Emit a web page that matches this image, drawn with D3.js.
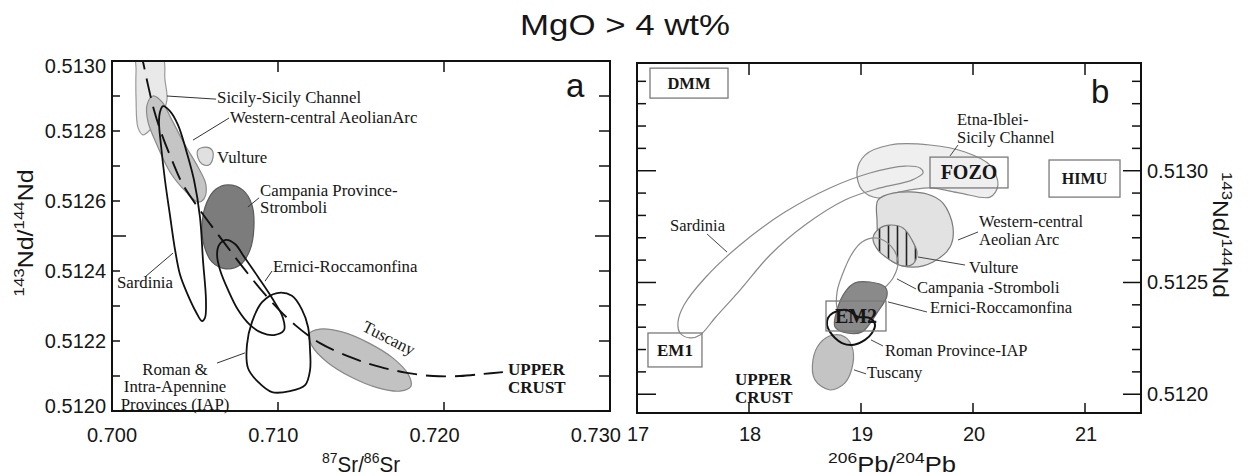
<!DOCTYPE html>
<html><head><meta charset="utf-8">
<script src="https://cdn.jsdelivr.net/npm/d3@7"></script>
<style>body{margin:0;background:#fff} svg{display:block}</style>
</head><body>
<svg id="c" width="1249" height="476"></svg>
<script>
// ================= DATA =================
const titleText = "MgO > 4 wt%";
const aXTicks = [0.700, 0.710, 0.720, 0.730];
const aXTickLabels = ["0.700", "0.710", "0.720", "0.730"];
const aYTicks = [0.5120, 0.5122, 0.5124, 0.5126, 0.5128, 0.5130];
const aYTickLabels = ["0.5120", "0.5122", "0.5124", "0.5126", "0.5128", "0.5130"];
const bXTicks = [17, 18, 19, 20, 21];
const bXTickLabels = ["17", "18", "19", "20", "21"];
const bYTicks = [0.5120, 0.5125, 0.5130];
const bYTickLabels = ["0.5120", "0.5125", "0.5130"];

// Panel a fields: [87Sr/86Sr, 143Nd/144Nd]
const aSicily = [[0.70151,0.513017],[0.70301,0.513017],[0.70319,0.512946],[0.70331,0.512889],[0.70289,0.512837],[0.70229,0.512803],[0.70187,0.512789],[0.70157,0.512809],[0.70145,0.512889],[0.70145,0.512974]];
const aAeolian = [[0.70247,0.5129],[0.70301,0.512883],[0.70361,0.512831],[0.70440,0.51276],[0.70518,0.512697],[0.70566,0.512646],[0.70554,0.512606],[0.70518,0.512597],[0.70446,0.512626],[0.70349,0.512683],[0.70271,0.51276],[0.70217,0.512826],[0.70211,0.512874]];
const aVulture = [[0.70518,0.512746],[0.70566,0.512754],[0.70602,0.512746],[0.70608,0.512723],[0.70584,0.512703],[0.70542,0.512706],[0.70518,0.512723]];
const aCampania = [[0.70699,0.512646],[0.70789,0.512631],[0.70843,0.512589],[0.70855,0.512526],[0.70831,0.51246],[0.70771,0.512417],[0.70687,0.512406],[0.70602,0.512426],[0.70554,0.512474],[0.70542,0.512531],[0.70572,0.512597],[0.70627,0.512634]];
const aSardinia = [[0.70307,0.512871],[0.70349,0.512857],[0.70398,0.512817],[0.70446,0.512746],[0.70494,0.51266],[0.70530,0.512554],[0.70548,0.512431],[0.70566,0.512317],[0.70560,0.512266],[0.70542,0.512257],[0.70506,0.512283],[0.70452,0.512337],[0.70410,0.512389],[0.70380,0.51246],[0.70349,0.51256],[0.70319,0.51266],[0.70295,0.51276],[0.70283,0.512826],[0.70289,0.512854]];
const aErnici = [[0.70687,0.512489],[0.70741,0.512477],[0.70801,0.512437],[0.70880,0.512383],[0.70964,0.512323],[0.71030,0.512266],[0.71036,0.512231],[0.70976,0.512217],[0.70904,0.512223],[0.70831,0.512246],[0.70759,0.512289],[0.70699,0.512346],[0.70651,0.512403],[0.70633,0.512446],[0.70645,0.512474]];
const aRoman = [[0.70994,0.512337],[0.71084,0.512329],[0.71145,0.512289],[0.71181,0.51224],[0.71193,0.512174],[0.71193,0.512117],[0.71163,0.512074],[0.71072,0.512057],[0.70964,0.512054],[0.70880,0.512083],[0.70819,0.512123],[0.70813,0.512189],[0.70843,0.512254],[0.70904,0.512311]];
const aTuscany = [[0.71801,0.512071],[0.71735,0.512057],[0.71602,0.512066],[0.71440,0.512097],[0.71295,0.51214],[0.71205,0.512186],[0.71187,0.51222],[0.71253,0.512234],[0.71386,0.512226],[0.71548,0.512194],[0.71693,0.512151],[0.71783,0.512106]];
const aMixing = [[0.70169,0.513031],[0.70187,0.512997],[0.70217,0.512931],[0.70253,0.51286],[0.70301,0.512789],[0.70361,0.512717],[0.70428,0.512646],[0.70530,0.512574],[0.70663,0.512489],[0.70801,0.512403],[0.70952,0.512317],[0.71102,0.512246],[0.71253,0.512194],[0.71452,0.512151],[0.71614,0.512126],[0.71777,0.512109],[0.71934,0.5121],[0.72096,0.5121],[0.72235,0.512106],[0.72355,0.512111]];

const aLabelText = [["Sicily-Sicily Channel"],["Western-central AeolianArc"],["Vulture"],["Campania Province-","Stromboli"],["Ernici-Roccamonfina"],["Sardinia"],["Roman &","Intra-Apennine","Provinces (IAP)"]];
const aLabelX = [0.70633, 0.70711, 0.70633, 0.70892, 0.70970, 0.70030, 0.70380];
const aLabelY = [0.51288, 0.512823, 0.512709, 0.512614, 0.512397, 0.512351, 0.512103];
const aLeaders = [
  [[0.70331,0.5129],[0.70627,0.512891]],
  [[0.70488,0.512774],[0.70705,0.512837]],
  [[0.70819,0.512583],[0.70886,0.512609]],
  [[0.70922,0.512371],[0.70964,0.5124]],
  [[0.70199,0.512383],[0.70367,0.512451]],
  [[0.70633,0.512137],[0.70801,0.512166]]
];
const aTuscanyLabel = ["Tuscany", 0.71669, 0.512209];
const aCrustLabel = [["UPPER","CRUST"], 0.72386, 0.512103];

// Panel b fields: [206Pb/204Pb, 143Nd/144Nd]
const bEtna = [[18.964,0.512994],[19.036,0.51307],[19.259,0.513115],[19.616,0.513115],[19.929,0.513084],[20.152,0.513025],[20.223,0.512936],[20.152,0.512882],[19.884,0.5129],[19.616,0.512923],[19.348,0.512905],[19.152,0.512878],[19.009,0.512914]];
const bSardinia = [[17.366,0.512323],[17.420,0.512399],[17.607,0.51252],[17.920,0.512668],[18.321,0.512815],[18.723,0.512923],[19.080,0.51299],[19.393,0.513021],[19.527,0.513012],[19.554,0.51299],[19.455,0.512958],[19.170,0.512923],[18.857,0.512869],[18.500,0.512757],[18.188,0.512623],[17.920,0.512466],[17.696,0.512341],[17.563,0.512265],[17.473,0.512252],[17.384,0.512274]];
const bAeolian = [[19.152,0.512869],[19.286,0.5129],[19.589,0.512896],[19.732,0.512855],[19.821,0.512748],[19.795,0.512659],[19.643,0.512592],[19.464,0.512569],[19.286,0.512592],[19.170,0.512659],[19.143,0.512779]];
const bVulture = [[19.107,0.512699],[19.170,0.512744],[19.259,0.512757],[19.375,0.512744],[19.455,0.51269],[19.5,0.512632],[19.464,0.512583],[19.375,0.512574],[19.259,0.512601],[19.152,0.512645]];
const bCampania = [[19.009,0.512681],[19.134,0.512699],[19.268,0.512663],[19.330,0.512592],[19.286,0.51252],[19.170,0.512457],[19.045,0.512399],[18.902,0.512355],[18.795,0.512377],[18.786,0.512457],[18.857,0.512565],[18.929,0.512636]];
const bErnici = [[19.080,0.512502],[19.214,0.51248],[19.232,0.51244],[19.143,0.512364],[19.009,0.512279],[18.875,0.512274],[18.768,0.512301],[18.786,0.512377],[18.857,0.512457],[18.946,0.512498]];
const bRoman = [[18.705,0.512341],[18.750,0.512364],[18.875,0.512377],[18.973,0.512346],[19.080,0.512341],[19.125,0.51231],[19.098,0.512274],[19.036,0.512243],[18.920,0.51222],[18.830,0.512229],[18.768,0.512252],[18.723,0.512279],[18.696,0.51231]];
const bTuscany = [[18.750,0.512265],[18.857,0.512256],[18.920,0.512212],[18.929,0.51214],[18.857,0.512051],[18.723,0.512019],[18.589,0.512064],[18.571,0.512153],[18.634,0.512229]];

// mantle end-members (boxes)
const emNames = ["DMM", "FOZO", "HIMU", "EM1", "EM2"];
const emX0 = [17.116, 19.616, 20.679, 17.098, 18.6875];
const emX1 = [17.8125, 20.3125, 21.3125, 17.580, 19.223];
const emY0 = [0.513325, 0.512923, 0.512882, 0.512122, 0.512283];
const emY1 = [0.513459, 0.513061, 0.513048, 0.512274, 0.512417];

const bLabelText = [["Etna-Iblei-","Sicily Channel"],["Sardinia"],["Western-central","Aeolian Arc"],["Vulture"],["Campania -Stromboli"],["Ernici-Roccamonfina"],["Roman Province-IAP"],["Tuscany"]];
const bLabelX = [19.857, 17.295, 20.054, 19.964, 19.5, 19.616, 19.214, 19.054];
const bLabelY = [0.513204, 0.51273, 0.512748, 0.512542, 0.512453, 0.512364, 0.512171, 0.512073];
const bLeaders = [
  [[19.866,0.513115],[19.795,0.513066]],
  [[17.625,0.512717],[17.804,0.512636]],
  [[19.866,0.51269],[20.045,0.512726]],
  [[19.509,0.512614],[19.929,0.512578]],
  [[19.321,0.512516],[19.491,0.512471]],
  [[19.241,0.512413],[19.589,0.512368]],
  [[19.089,0.512243],[19.196,0.512216]],
  [[18.9375,0.512109],[19.045,0.512091]]
];
const bCrustLabel = [["UPPER","CRUST"], 17.875, 0.512042];

// ================= DRAW =================
const FS = "'Liberation Serif','Times New Roman',serif";
const SS = "'Liberation Sans',Arial,Helvetica,sans-serif";
const INK = "#161616";
const svg = d3.select("#c");
const defs = svg.append("defs");

const xa = d3.scaleLinear().domain([0.700, 0.730]).range([112, 610]);
const ya = d3.scaleLinear().domain([0.5120, 0.5130]).range([411, 61]);
const xb = d3.scaleLinear().domain([17, 21.5]).range([637, 1141]);
const yb = d3.scaleLinear().domain([0.511916, 0.513482]).range([413, 63]);

// hatch pattern
const pat = defs.append("pattern").attr("id","hatch").attr("patternUnits","userSpaceOnUse")
  .attr("width",9).attr("height",10).attr("x",2);
pat.append("rect").attr("width",9).attr("height",10).attr("fill","#dcdcdc");
pat.append("line").attr("x1",4.5).attr("x2",4.5).attr("y1",0).attr("y2",10).attr("stroke","#222").attr("stroke-width",1.6);

function clip(id, xs, ys){
  defs.append("clipPath").attr("id",id).append("rect")
    .attr("x",xs.range()[0]).attr("y",ys.range()[1])
    .attr("width",xs.range()[1]-xs.range()[0]).attr("height",ys.range()[0]-ys.range()[1]);
}
clip("clipA", xa, ya); clip("clipB", xb, yb);

function field(g, pts, xs, ys, fill, stroke, sw){
  const line = d3.line().x(d=>xs(d[0])).y(d=>ys(d[1])).curve(d3.curveCatmullRomClosed.alpha(0.5));
  g.append("path").attr("d", line(pts)).attr("fill", fill).attr("stroke", stroke).attr("stroke-width", sw).attr("stroke-linejoin","round");
}
function leader(g, seg, xs, ys, color, sw){
  g.append("line").attr("x1",xs(seg[0][0])).attr("y1",ys(seg[0][1])).attr("x2",xs(seg[1][0])).attr("y2",ys(seg[1][1]))
    .attr("stroke",color).attr("stroke-width",sw);
}
function label(g, lines, x, y, size, anchor, lh, weight){
  const t = g.append("text").attr("x",x).attr("y",y).attr("font-family",FS).attr("font-size",size)
    .attr("fill",INK).attr("text-anchor",anchor||"start").attr("font-weight",weight||"normal");
  lines.forEach((s,i)=>t.append("tspan").attr("x",x).attr("dy", i===0?0:lh).text(s));
}

// title
svg.append("text").attr("x",625).attr("y",35).attr("text-anchor","middle")
  .attr("font-family",SS).attr("font-size",29).attr("fill",INK)
  .attr("textLength",210).attr("lengthAdjust","spacingAndGlyphs").text(titleText);

// ---------- Panel a ----------
const ga = svg.append("g");
const pa = ga.append("g").attr("clip-path","url(#clipA)");
field(pa, aSicily, xa, ya, "#e9e9e9", "#9a9a9a", 1.2);
field(pa, aAeolian, xa, ya, "#c5c5c5", "#8a8a8a", 1.2);
field(pa, aVulture, xa, ya, "#e0e0e0", "#8a8a8a", 1.2);
field(pa, aCampania, xa, ya, "#7c7c7c", "#5a5a5a", 1.2);
field(pa, aTuscany, xa, ya, "#c2c2c2", "#888", 1.2);
field(pa, aSardinia, xa, ya, "none", "#111", 1.8);
field(pa, aErnici, xa, ya, "none", "#111", 1.8);
field(pa, aRoman, xa, ya, "none", "#111", 1.8);
pa.append("path").attr("d", d3.line().x(d=>xa(d[0])).y(d=>ya(d[1])).curve(d3.curveCatmullRom.alpha(0.5))(aMixing))
  .attr("fill","none").attr("stroke","#111").attr("stroke-width",1.9).attr("stroke-dasharray","20,9");

aLeaders.forEach(s=>leader(ga, s, xa, ya, "#333", 1));
aLabelText.forEach((lines,i)=>{
  const anchor = i===6 ? "middle" : "start";
  label(ga, lines, xa(aLabelX[i]), ya(aLabelY[i]), 16.8, anchor, i===6?17.5:17);
});
ga.append("text").attr("transform",`translate(${xa(aTuscanyLabel[1])},${ya(aTuscanyLabel[2])}) rotate(27)`)
  .attr("text-anchor","middle").attr("dy","0.35em").attr("font-family",FS).attr("font-size",16.8).attr("fill",INK).text(aTuscanyLabel[0]);
label(ga, aCrustLabel[0], xa(aCrustLabel[1]), ya(aCrustLabel[2]), 17, "start", 18, "bold");

// frame a
ga.append("rect").attr("x",xa.range()[0]).attr("y",ya.range()[1]).attr("width",xa.range()[1]-xa.range()[0])
  .attr("height",ya.range()[0]-ya.range()[1]).attr("fill","none").attr("stroke","#111").attr("stroke-width",2);
// ticks a
d3.range(0,11).forEach(i=>{
  const v = 0.5120 + i*0.0001, y = ya(v), maj = i%5===0;
  ga.append("line").attr("x1",xa.range()[0]).attr("x2",xa.range()[0]+(maj?14:8)).attr("y1",y).attr("y2",y).attr("stroke","#111").attr("stroke-width",1.5);
  ga.append("line").attr("x1",xa.range()[1]).attr("x2",xa.range()[1]-(maj?15:11)).attr("y1",y).attr("y2",y).attr("stroke","#111").attr("stroke-width",1.5);
});
aXTicks.slice(1,3).forEach(v=>{
  ga.append("line").attr("x1",xa(v)).attr("x2",xa(v)).attr("y1",ya.range()[1]).attr("y2",ya.range()[1]+11).attr("stroke","#111").attr("stroke-width",1.5);
  ga.append("line").attr("x1",xa(v)).attr("x2",xa(v)).attr("y1",ya.range()[0]).attr("y2",ya.range()[0]-9).attr("stroke","#111").attr("stroke-width",1.5);
});
aXTicks.forEach((v,i)=>{
  ga.append("text").attr("x",xa(v)-i*4.7).attr("y",442).attr("text-anchor","middle").attr("font-family",SS)
    .attr("font-size",20).attr("fill",INK).text(aXTickLabels[i]);
});
aYTicks.forEach((v,i)=>{
  const shift = i===0 ? -5 : (i===aYTicks.length-1 ? 5 : 0);
  ga.append("text").attr("x",106).attr("y",ya(v)+7+shift).attr("text-anchor","end").attr("font-family",SS)
    .attr("font-size",20).attr("fill",INK).text(aYTickLabels[i]);
});
ga.append("text").attr("x",566).attr("y",97).attr("font-family",SS).attr("font-size",33).attr("fill",INK).text("a");

// ---------- Panel b ----------
const gb = svg.append("g");
const pb = gb.append("g").attr("clip-path","url(#clipB)");
field(pb, bEtna, xb, yb, "#efefef", "#8a8a8a", 1.2);
field(pb, bSardinia, xb, yb, "none", "#8a8a8a", 1.2);
field(pb, bAeolian, xb, yb, "#e2e2e2", "#7a7a7a", 1.2);
field(pb, bVulture, xb, yb, "url(#hatch)", "#7a7a7a", 1.2);
field(pb, bCampania, xb, yb, "none", "#8a8a8a", 1.2);
field(pb, bErnici, xb, yb, "#8a8a8a", "#666", 1.2);
field(pb, bTuscany, xb, yb, "#c4c4c4", "#888", 1.2);
field(pb, bRoman, xb, yb, "none", "#111", 2);

const emSize = [16.5, 20, 16, 17, 20];
emNames.forEach((n,i)=>{
  const x0 = xb(emX0[i]), x1 = xb(emX1[i]), y0 = yb(emY1[i]), y1 = yb(emY0[i]);
  gb.append("rect").attr("x",x0).attr("y",y0).attr("width",x1-x0).attr("height",y1-y0)
    .attr("fill","none").attr("stroke","#7a7a7a").attr("stroke-width",1.3);
  gb.append("text").attr("x",(x0+x1)/2).attr("y",(y0+y1)/2).attr("dy","0.34em").attr("text-anchor","middle")
    .attr("font-family",FS).attr("font-weight","bold").attr("font-size",emSize[i]).attr("fill",INK).text(n);
});
bLeaders.forEach(s=>leader(gb, s, xb, yb, "#444", 1));
bLabelText.forEach((lines,i)=>label(gb, lines, xb(bLabelX[i]), yb(bLabelY[i]), 16.5, "start", 17.5));
label(gb, bCrustLabel[0], xb(bCrustLabel[1]), yb(bCrustLabel[2]), 17, "start", 18, "bold");

gb.append("rect").attr("x",xb.range()[0]).attr("y",yb.range()[1]).attr("width",xb.range()[1]-xb.range()[0])
  .attr("height",yb.range()[0]-yb.range()[1]).attr("fill","none").attr("stroke","#111").attr("stroke-width",2);
d3.range(0,15).forEach(i=>{
  const v = 0.5120 + i*0.0001, y = yb(v), maj = i%5===0;
  gb.append("line").attr("x1",xb.range()[0]).attr("x2",xb.range()[0]+(maj?19:9)).attr("y1",y).attr("y2",y).attr("stroke","#111").attr("stroke-width",1.5);
  gb.append("line").attr("x1",xb.range()[1]).attr("x2",xb.range()[1]-(maj?18:9)).attr("y1",y).attr("y2",y).attr("stroke","#111").attr("stroke-width",1.5);
});
bXTicks.slice(1).forEach(v=>{
  gb.append("line").attr("x1",xb(v)).attr("x2",xb(v)).attr("y1",yb.range()[1]).attr("y2",yb.range()[1]+12).attr("stroke","#111").attr("stroke-width",1.5);
  gb.append("line").attr("x1",xb(v)).attr("x2",xb(v)).attr("y1",yb.range()[0]).attr("y2",yb.range()[0]-10).attr("stroke","#111").attr("stroke-width",1.5);
});
bXTicks.forEach((v,i)=>{
  gb.append("text").attr("x",xb(v)+1).attr("y",441).attr("text-anchor","middle").attr("font-family",SS)
    .attr("font-size",20).attr("fill",INK).text(bXTickLabels[i]);
});
bYTicks.forEach((v,i)=>{
  gb.append("text").attr("x",1147).attr("y",yb(v)+7).attr("text-anchor","start").attr("font-family",SS)
    .attr("font-size",20).attr("fill",INK).text(bYTickLabels[i]);
});
gb.append("text").attr("x",1091).attr("y",103).attr("font-family",SS).attr("font-size",33).attr("fill",INK).text("b");

// ---------- axis titles ----------
function axisTitle(parts, x, y, rot, len){
  const t = svg.append("text").attr("transform",`translate(${x},${y}) rotate(${rot})`).attr("text-anchor","middle")
    .attr("font-family",SS).attr("font-size",22).attr("fill",INK)
    .attr("textLength",len).attr("lengthAdjust","spacingAndGlyphs");
  parts.forEach(([s,sup])=>{
    const ts = t.append("tspan").text(s);
    if (sup) ts.attr("font-size",15).attr("dy",-9); else ts.attr("dy",9);
  });
  t.select("tspan:first-child").attr("dy",-9);
}
const ndTitle = [["143",1],["Nd/",0],["144",1],["Nd",0]];
axisTitle(ndTitle, 33, 233, -90, 127);
axisTitle(ndTitle, 1213, 235, 90, 126);
axisTitle([["87",1],["Sr/",0],["86",1],["Sr",0]], 361, 472, 0, 78);
axisTitle([["206",1],["Pb/",0],["204",1],["Pb",0]], 892, 472, 0, 128);
</script>
</body></html>
